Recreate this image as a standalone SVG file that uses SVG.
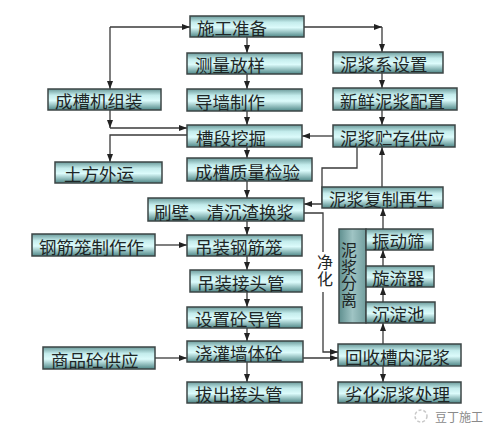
<svg xmlns="http://www.w3.org/2000/svg" width="499" height="438" viewBox="0 0 499 438">
<defs>
<linearGradient id="g" x1="0" y1="0" x2="0" y2="1">
<stop offset="0" stop-color="#6a9a9a"/>
<stop offset="0.3" stop-color="#c4ecec"/>
<stop offset="0.55" stop-color="#dcfbfb"/>
<stop offset="1" stop-color="#4f8787"/>
</linearGradient>
<linearGradient id="gs" x1="0" y1="0" x2="1" y2="0">
<stop offset="0" stop-color="#5f8f8f"/>
<stop offset="0.5" stop-color="#9fc4c4"/>
<stop offset="1" stop-color="#729e9e"/>
</linearGradient>
<marker id="a" viewBox="0 0 8 6" refX="8" refY="3" markerWidth="8" markerHeight="6" markerUnits="userSpaceOnUse" orient="auto">
<path d="M0,0 L8,3 L0,6 z" fill="#222"/>
</marker>
<style>
.b{fill:url(#g);stroke:#3c4646;stroke-width:1.5}
.t{font-family:"Noto Sans CJK SC","Noto Sans CJK JP",sans-serif;font-size:17.5px;fill:#1e2626}
.v{font-family:"Noto Sans CJK SC","Noto Sans CJK JP",sans-serif;font-size:16px;fill:#1e2626;writing-mode:vertical-rl;letter-spacing:0.5px}
.c{fill:none;stroke:#3a3a3a;stroke-width:1.3;marker-end:url(#a)}
</style>
</defs>
<rect width="499" height="438" fill="#ffffff"/>
<g id="connectors">
<path class="c" d="M247,37 V53"/>
<path class="c" d="M247,74 V89"/>
<path class="c" d="M247,111 V125"/>
<path class="c" d="M247,147 V158"/>
<path class="c" d="M247,181 V198"/>
<path class="c" d="M247,221 V235"/>
<path class="c" d="M247,256 V270"/>
<path class="c" d="M247,292 V307"/>
<path class="c" d="M247,328 V341"/>
<path class="c" d="M247,362 V382"/>
<path class="c" d="M110,27 H190"/>
<path class="c" d="M110,27 V89"/>
<path class="c" d="M110,110 V128"/>
<path class="c" d="M110,128 H187"/>
<path class="c" d="M187,135 H110 V162"/>
<path class="c" d="M304,27 H382"/>
<path class="c" d="M382,27 V52"/>
<path class="c" d="M382,73 V88"/>
<path class="c" d="M382,110 V125"/>
<path class="c" d="M333,136 H302"/>
<path class="c" d="M357,147 V168 H322 V204 H304"/>
<path class="c" d="M382,187 V147"/>
<path class="c" d="M304,213 H323 V352 H338"/>
<path class="c" d="M303,358 H338"/>
<path class="c" d="M383,229 V208"/>
<path class="c" d="M383,266 V250"/>
<path class="c" d="M383,302 V287"/>
<path class="c" d="M383,344 V323"/>
<path class="c" d="M383,366 V382"/>
<path class="c" d="M155,245 H187"/>
<path class="c" d="M155,358 H187"/>
</g>
<g id="jinghua">
<rect x="315" y="252" width="18" height="40" fill="#ffffff"/>
<text class="v" x="325" y="254" font-size="17" letter-spacing="2">净化</text>
</g>
<g id="n1"><rect class="b" x="190" y="16" width="114" height="21"/><text class="t" x="197" y="35">施工准备</text></g>
<g id="n2"><rect class="b" x="187" y="53" width="115" height="21"/><text class="t" x="195" y="72">测量放样</text></g>
<g id="n3"><rect class="b" x="187" y="89" width="115" height="22"/><text class="t" x="195" y="109">导墙制作</text></g>
<g id="n4"><rect class="b" x="187" y="125" width="115" height="22"/><text class="t" x="196" y="145">槽段挖掘</text></g>
<g id="n5"><rect class="b" x="187" y="158" width="125" height="23"/><text class="t" x="195" y="179">成槽质量检验</text></g>
<g id="n6"><rect class="b" x="148" y="198" width="156" height="23"/><text class="t" x="154" y="219">刷壁、清沉渣换浆</text></g>
<g id="n7"><rect class="b" x="187" y="235" width="115" height="21"/><text class="t" x="195" y="254">吊装钢筋笼</text></g>
<g id="n8"><rect class="b" x="190" y="270" width="112" height="22"/><text class="t" x="197" y="290">吊装接头管</text></g>
<g id="n9"><rect class="b" x="187" y="307" width="115" height="21"/><text class="t" x="195" y="326">设置砼导管</text></g>
<g id="n10"><rect class="b" x="187" y="341" width="116" height="21"/><text class="t" x="195" y="360">浇灌墙体砼</text></g>
<g id="n11"><rect class="b" x="187" y="382" width="115" height="21"/><text class="t" x="195" y="401">拔出接头管</text></g>
<g id="n12"><rect class="b" x="48" y="89" width="113" height="21"/><text class="t" x="55" y="108">成槽机组装</text></g>
<g id="n13"><rect class="b" x="55" y="162" width="107" height="21"/><text class="t" x="64" y="181">土方外运</text></g>
<g id="n14"><rect class="b" x="32" y="234" width="123" height="22"/><text class="t" x="39" y="254">钢筋笼制作作</text></g>
<g id="n15"><rect class="b" x="43" y="347" width="112" height="22"/><text class="t" x="51" y="367">商品砼供应</text></g>
<g id="n16"><rect class="b" x="333" y="52" width="110" height="21"/><text class="t" x="340" y="71">泥浆系设置</text></g>
<g id="n17"><rect class="b" x="333" y="88" width="124" height="22"/><text class="t" x="340" y="108">新鲜泥浆配置</text></g>
<g id="n18"><rect class="b" x="333" y="125" width="122" height="22"/><text class="t" x="340" y="145">泥浆贮存供应</text></g>
<g id="n19"><rect class="b" x="322" y="187" width="121" height="21"/><text class="t" x="329" y="206">泥浆复制再生</text></g>
<g id="n20"><rect x="339" y="229" width="27" height="94" fill="url(#gs)" stroke="#3c4646" stroke-width="1.5"/>
<text class="v" x="349" y="242">泥浆分离</text></g>
<g id="n21"><rect class="b" x="366" y="229" width="67" height="21"/><text class="t" x="372" y="248">振动筛</text></g>
<g id="n22"><rect class="b" x="366" y="266" width="68" height="21"/><text class="t" x="372" y="285">旋流器</text></g>
<g id="n23"><rect class="b" x="366" y="302" width="69" height="21"/><text class="t" x="372" y="321">沉淀池</text></g>
<g id="n24"><rect class="b" x="338" y="344" width="123" height="22"/><text class="t" x="345" y="364">回收槽内泥浆</text></g>
<g id="n25"><rect class="b" x="338" y="382" width="123" height="21"/><text class="t" x="345" y="401">劣化泥浆处理</text></g>
<g id="watermark">
<circle cx="421" cy="416" r="6" fill="none" stroke="#c8c8c8" stroke-width="1.5" stroke-dasharray="3 2"/>
<text x="435" y="422" font-family="'Noto Sans CJK SC',sans-serif" font-size="12" fill="#8a8a8a">豆丁施工</text>
</g>
</svg>
